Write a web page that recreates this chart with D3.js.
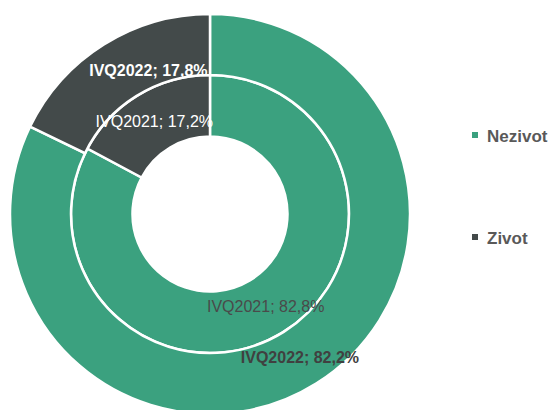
<!DOCTYPE html>
<html><head><meta charset="utf-8">
<script src="https://cdn.jsdelivr.net/npm/d3@7"></script>
<style>html,body{margin:0;padding:0;background:#fff;}svg{display:block;}</style>
</head><body>
<svg id="chart" width="551" height="410"></svg>
<script>
const categories = ["Nezivot", "Zivot"];
const seriesNames = ["IVQ2021", "IVQ2022"];
const values2021 = [82.8, 17.2];
const values2022 = [82.2, 17.8];
const colors = ["#3BA17F", "#434A4A"];

const svg = d3.select("#chart");
const cx = 210, cy = 214;
const rings = [
  {name: seriesNames[0], values: values2021, r0: 77.5, r1: 139, bold: false},
  {name: seriesNames[1], values: values2022, r0: 139, r1: 200, bold: true}
];
const color = d3.scaleOrdinal().domain(categories).range(colors);
const pie = d3.pie().sort(null).value(d => d.v);
const font = "'Liberation Sans', Arial, sans-serif";
const g = svg.append("g").attr("transform", `translate(${cx},${cy})`);

rings.forEach(ring => {
  const arcs = pie(categories.map((c, i) => ({c, v: ring.values[i]})));
  const arc = d3.arc().innerRadius(ring.r0).outerRadius(ring.r1);
  g.append("g").selectAll("path").data(arcs).join("path")
    .attr("d", arc)
    .attr("fill", d => color(d.data.c))
    .attr("stroke", "#fff").attr("stroke-width", 2.5);
  ring.arcs = arcs; ring.arc = arc;
});

const outerR = rings[1].r1;
rings.forEach(ring => {
  ring.arcs.forEach(d => {
    const [x, y] = ring.arc.centroid(d);
    const t = g.append("text")
      .attr("x", x).attr("y", y)
      .attr("text-anchor", "middle").attr("dominant-baseline", "central")
      .attr("font-family", font).attr("font-size", 16)
      .attr("font-weight", ring.bold ? "bold" : "normal")
      .attr("fill", d.data.c === "Zivot" ? "#ffffff" : (ring.bold ? "#404040" : "#4a4a4a"))
      .text(`${ring.name}; ${d.data.v.toFixed(1).replace(".", ",")}%`);
    // keep label inside the outer circle on the left side
    const bb = t.node().getBBox();
    const yTop = Math.abs(bb.y) < outerR ? bb.y : 0;
    const limit = -Math.sqrt(outerR * outerR - yTop * yTop) + 9;
    if (bb.x < limit && x < 0) t.attr("x", x + (limit - bb.x));
  });
});

const legend = svg.append("g");
const legY = [135, 237];
categories.forEach((c, i) => {
  legend.append("rect").attr("x", 472).attr("y", legY[i] - 3).attr("width", 6).attr("height", 6)
    .attr("fill", color(c));
  legend.append("text").attr("x", 487).attr("y", legY[i] + 7)
    .attr("font-family", font).attr("font-size", 17).attr("font-weight", "bold")
    .attr("fill", "#595959").text(c);
});
</script>
</body></html>
